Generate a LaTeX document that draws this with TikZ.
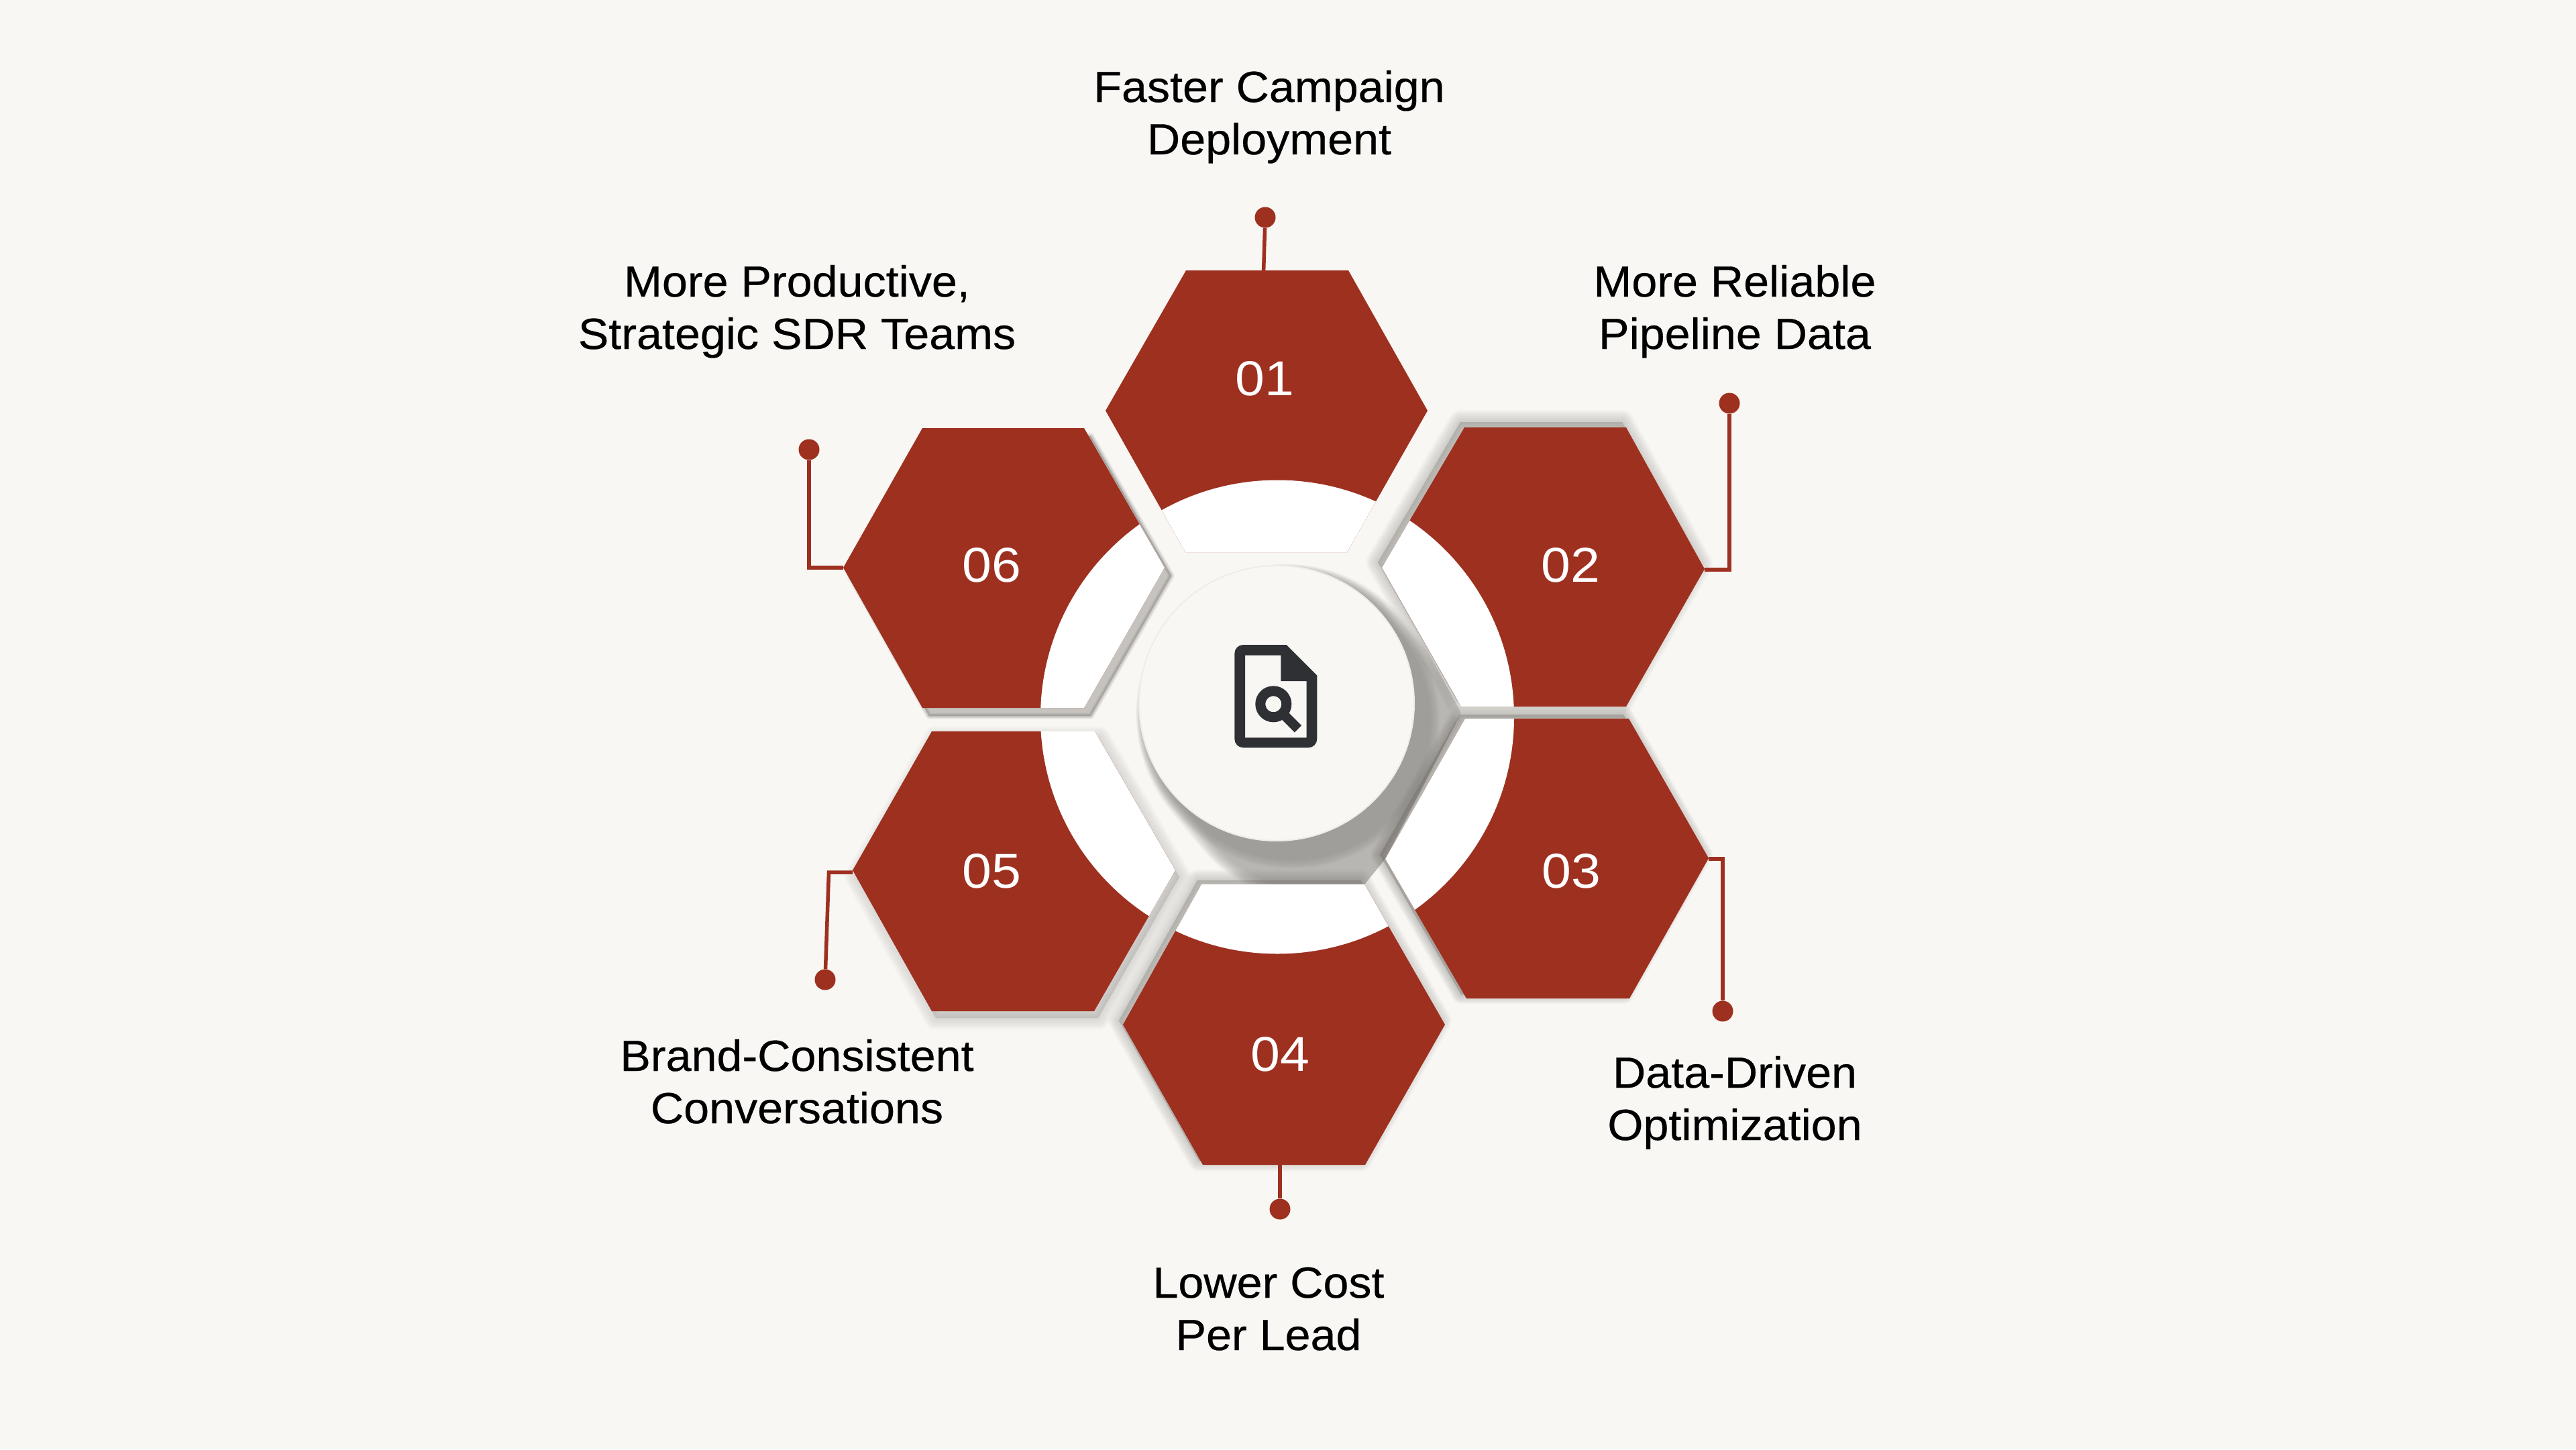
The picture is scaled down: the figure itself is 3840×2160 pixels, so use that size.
\documentclass[tikz,border=0pt]{standalone}
\usepackage{fontspec}
\setmainfont{Liberation Sans}
\newfontfamily\lblf[FakeStretch=1.05,FakeBold=0.4]{Liberation Sans}
\newfontfamily\numf[FakeStretch=1.08]{Liberation Sans}
\definecolor{bgc}{HTML}{F8F7F3}
\definecolor{redc}{HTML}{9E3020}
\definecolor{iconc}{HTML}{2F3034}
\definecolor{shc}{HTML}{6A6762}
\definecolor{hubsh}{HTML}{9C9995}
\definecolor{hubdk}{HTML}{8A8A88}
\def\hexA{(1768,403)--(2010,403)--(2128,612)--(2008,823)--(1767,823)--(1648,612)--cycle}
\def\hexB{(2183,637)--(2424,637)--(2541,848)--(2424,1053)--(2178,1053)--(2060,846)--cycle}
\def\hexC{(2184,1071)--(2428,1071)--(2547,1279)--(2429,1488)--(2186,1488)--(2065,1280)--cycle}
\def\hexD{(1791,1318)--(2034,1318)--(2154,1527)--(2035,1736)--(1793,1736)--(1674,1527)--cycle}
\def\hexE{(1389,1090)--(1632,1090)--(1752,1297)--(1631,1507)--(1389,1507)--(1271,1297)--cycle}
\def\hexF{(1375,638)--(1616,638)--(1736,846)--(1616,1055)--(1375,1055)--(1257,846)--cycle}
\newcommand\softhex[5]{%
  \foreach \k in {12,...,1}{%
    \draw[shc,fill=shc,opacity=#5,line join=round,line width={2*#4*\k/12*1pt},shift={(#2,#3)}] #1;}%
}
\newcommand\lbl[2]{\rule{0pt}{50pt}#1\\#2\rule[-16pt]{0pt}{16pt}}
\tikzset{
  hexfill/.style={fill=redc},
  leader/.style={draw=redc,line width=5.5pt},
  dotn/.style={circle,fill=redc,minimum size=31pt,inner sep=0pt},
  numlab/.style={text=white,font=\numf\fontsize{73}{73}\selectfont,inner sep=0pt},
  toplab/.style={text=black,font=\lblf\fontsize{65}{78}\selectfont,align=center,inner sep=0pt},
}
\begin{document}
\begin{tikzpicture}[x=1pt,y=-1pt]
\useasboundingbox (0,0) rectangle (3840,2160);
\fill[bgc] (0,0) rectangle (3840,2160);
% hub long shadow, kept inside the central opening
\begin{scope}
\clip (2060,846)--(2178,1062)--(2065,1280)--(2034,1318)--(1791,1318)--(1752,1297)--(1632,1090)--(1618,1055)--(1736,846)--(1767,823)--(2008,823)--cycle;
\foreach \k in {10,...,1}{
  \draw[hubsh,opacity=.1,line cap=round,line width={(410+40*\k/10)*1pt}] (1919,1066)--(1966,1122);
}
\foreach \k in {10,...,1}{
  \draw[hubdk,opacity=.06,line cap=round,line width={(410+30*\k/10)*1pt}] (1914,1061)--(1926,1075);
}
\end{scope}
% hexagon shadows
\softhex{\hexB}{-6}{-8}{18}{.025}
\softhex{\hexC}{-8}{-6}{14}{.03}
\softhex{\hexD}{-6}{-6}{16}{.022}
\softhex{\hexE}{6}{10}{18}{.016}
\softhex{\hexF}{10}{12}{5}{.03}
% hexagons with the white disc inside them
\foreach \h in {\hexA,\hexB,\hexC,\hexD,\hexE,\hexF}{
  \fill[hexfill] \h;
  \begin{scope}
    \clip \h;
    \fill[white] (1904,1068.5) circle[radius=353];
  \end{scope}
}
% hub
\node[circle,fill=bgc,draw=black!4!bgc,line width=2pt,minimum size=410pt,inner sep=0pt] (hub) at (1903,1048) {};
% icon
\fill[iconc,even odd rule]
  (1853.3,961)--(1917.7,961)--(1963.3,1006.7)--(1963.3,1101.3) .. controls (1963.3,1108.5) and (1957.5,1114.3) .. (1950.3,1114.3)
  --(1853.3,1114.3) .. controls (1846.1,1114.3) and (1840.3,1108.5) .. (1840.3,1101.3)
  --(1840.3,974) .. controls (1840.3,966.8) and (1846.1,961) .. (1853.3,961)--cycle
  (1856,976.7)--(1909.3,976.7)--(1909.3,1015)--(1947.7,1015)--(1947.7,1099.3)--(1856,1099.3)--cycle;
\draw[iconc,line width=15pt] (1898.3,1049.3) circle[radius=19.5];
\draw[iconc,line width=14.5pt] (1913,1064.5)--(1935,1086.3);
% numbers
\node[numlab] (n1) at (1885,564) {01};
\node[numlab] (n2) at (2341.5,842.5) {02};
\node[numlab] (n3) at (2342,1298.5) {03};
\node[numlab] (n4) at (1908,1571) {04};
\node[numlab] (n5) at (1478,1298.5) {05};
\node[numlab] (n6) at (1478.5,842.5) {06};
% anchors and dots
\coordinate (a1) at (1883.6,404);
\coordinate (a2) at (2541,849);
\coordinate (a3) at (2547,1280);
\coordinate (a4) at (1908,1736);
\coordinate (a5) at (1271,1300);
\coordinate (k5) at (1235.5,1300);
\coordinate (a6) at (1257,846);
\node[dotn] (d1) at (1886,324) {};
\node[dotn] (d2) at (2578,601) {};
\node[dotn] (d3) at (2568,1507) {};
\node[dotn] (d4) at (1908,1802) {};
\node[dotn] (d5) at (1230,1460) {};
\node[dotn] (d6) at (1206,670) {};
\draw[leader] (a1)--(d1);
\draw[leader] (a2)-|(d2);
\draw[leader] (a3)-|(d3);
\draw[leader] (a4)--(d4);
\draw[leader] (a5)--(k5)--(d5);
\draw[leader] (a6)-|(d6);
% labels: centre = first baseline + 22
\node[toplab] (t1) at (1892,174) {\lbl{Faster Campaign}{Deployment}};
\node[toplab] (t2) at (2586,464) {\lbl{More Reliable}{Pipeline Data}};
\node[toplab] (t3) at (2586,1643) {\lbl{Data-Driven}{Optimization}};
\node[toplab] (t4) at (1891,1956) {\lbl{Lower Cost}{Per Lead}};
\node[toplab] (t5) at (1188,1618) {\lbl{Brand-Consistent}{Conversations}};
\node[toplab] (t6) at (1188,464) {\lbl{More Productive,}{Strategic SDR Teams}};
\end{tikzpicture}
\end{document}
